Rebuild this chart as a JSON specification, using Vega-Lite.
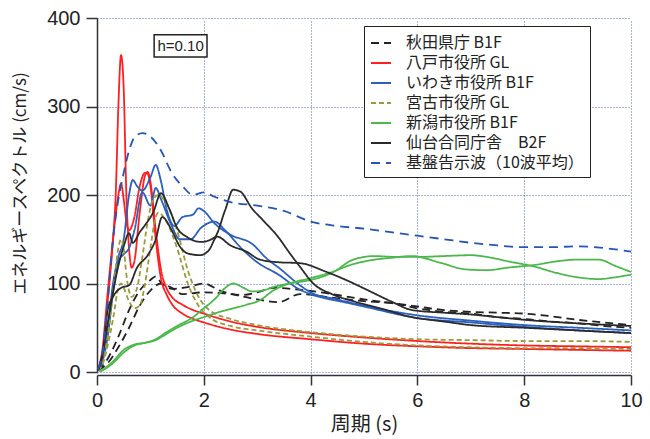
{
"$schema": "https://vega.github.io/schema/vega-lite/v6.json",
"width": 534, "height": 354,
"autosize": "none",
"padding": {"left": 97, "top": 18, "right": 19, "bottom": 67},
"background": "white",
"config": {"view": {"stroke": null}, "font": "Noto Sans CJK JP",
 "axisX": {"offset": 3, "grid": true, "gridColor": "#5566cc", "gridDash": [1,2], "gridWidth": 1, "gridOpacity": 1, "domainColor": "#333", "domainWidth": 1.5, "tickColor": "#333", "tickWidth": 1.5, "tickSize": 10, "labelFont": "Liberation Sans", "labelFontSize": 20, "labelColor": "#222", "labelPadding": 5, "labelFlush": false, "titleFont": "Noto Sans CJK JP", "titleFontSize": 20, "titleFontWeight": "normal", "titleColor": "#222", "titlePadding": 4},
 "axisY": {"grid": true, "gridColor": "#5566cc", "gridDash": [1,2], "gridWidth": 1, "gridOpacity": 1, "domainColor": "#333", "domainWidth": 1.5, "tickColor": "#333", "tickWidth": 1.5, "tickSize": 11, "labelFont": "Liberation Sans", "labelFontSize": 20, "labelColor": "#222", "labelPadding": 6, "labelFlush": false, "titleFont": "Noto Sans CJK JP", "titleFontSize": 17, "titleFontWeight": "normal", "titleColor": "#222", "titleX": -77, "titleY": 165, "titleAngle": -90, "titleAlign": "center", "titleBaseline": "middle"}
},
"layer": [
{
"data": {"values": [
{"s":"秋田県庁 B1F","c":"A","x":0.02,"y":2},{"s":"秋田県庁 B1F","c":"A","x":0.2,"y":15},{"s":"秋田県庁 B1F","c":"A","x":0.4,"y":40},{"s":"秋田県庁 B1F","c":"A","x":0.6,"y":70},{"s":"秋田県庁 B1F","c":"A","x":0.8,"y":92},{"s":"秋田県庁 B1F","c":"A","x":1.0,"y":104},{"s":"秋田県庁 B1F","c":"A","x":1.1,"y":108},{"s":"秋田県庁 B1F","c":"A","x":1.2,"y":101},{"s":"秋田県庁 B1F","c":"A","x":1.4,"y":94},{"s":"秋田県庁 B1F","c":"A","x":1.7,"y":96},{"s":"秋田県庁 B1F","c":"A","x":2.0,"y":100},{"s":"秋田県庁 B1F","c":"A","x":2.3,"y":92},{"s":"秋田県庁 B1F","c":"A","x":2.7,"y":87},{"s":"秋田県庁 B1F","c":"A","x":3.0,"y":90},{"s":"秋田県庁 B1F","c":"A","x":3.3,"y":95},{"s":"秋田県庁 B1F","c":"A","x":3.8,"y":93},{"s":"秋田県庁 B1F","c":"A","x":4.2,"y":90},{"s":"秋田県庁 B1F","c":"A","x":4.5,"y":87},{"s":"秋田県庁 B1F","c":"A","x":5.0,"y":82},{"s":"秋田県庁 B1F","c":"A","x":5.5,"y":78},{"s":"秋田県庁 B1F","c":"A","x":6.0,"y":74},{"s":"秋田県庁 B1F","c":"A","x":6.5,"y":70},{"s":"秋田県庁 B1F","c":"A","x":7.0,"y":68},{"s":"秋田県庁 B1F","c":"A","x":7.5,"y":67},{"s":"秋田県庁 B1F","c":"A","x":8.0,"y":66},{"s":"秋田県庁 B1F","c":"A","x":8.5,"y":63},{"s":"秋田県庁 B1F","c":"A","x":9.0,"y":59},{"s":"秋田県庁 B1F","c":"A","x":9.5,"y":56},{"s":"秋田県庁 B1F","c":"A","x":10,"y":53},
{"s":"秋田県庁 B1F","c":"B","x":0.02,"y":2},{"s":"秋田県庁 B1F","c":"B","x":0.2,"y":10},{"s":"秋田県庁 B1F","c":"B","x":0.4,"y":28},{"s":"秋田県庁 B1F","c":"B","x":0.6,"y":50},{"s":"秋田県庁 B1F","c":"B","x":0.8,"y":75},{"s":"秋田県庁 B1F","c":"B","x":1.0,"y":92},{"s":"秋田県庁 B1F","c":"B","x":1.2,"y":100},{"s":"秋田県庁 B1F","c":"B","x":1.4,"y":95},{"s":"秋田県庁 B1F","c":"B","x":1.6,"y":88},{"s":"秋田県庁 B1F","c":"B","x":2.0,"y":90},{"s":"秋田県庁 B1F","c":"B","x":2.5,"y":88},{"s":"秋田県庁 B1F","c":"B","x":3.0,"y":82},{"s":"秋田県庁 B1F","c":"B","x":3.4,"y":79},{"s":"秋田県庁 B1F","c":"B","x":3.8,"y":88},{"s":"秋田県庁 B1F","c":"B","x":4.4,"y":84},{"s":"秋田県庁 B1F","c":"B","x":5.0,"y":80},{"s":"秋田県庁 B1F","c":"B","x":5.5,"y":78},{"s":"秋田県庁 B1F","c":"B","x":6.0,"y":72},{"s":"秋田県庁 B1F","c":"B","x":6.5,"y":68},{"s":"秋田県庁 B1F","c":"B","x":7.0,"y":66},{"s":"秋田県庁 B1F","c":"B","x":7.5,"y":62},{"s":"秋田県庁 B1F","c":"B","x":8.0,"y":60},{"s":"秋田県庁 B1F","c":"B","x":8.5,"y":57},{"s":"秋田県庁 B1F","c":"B","x":9.0,"y":55},{"s":"秋田県庁 B1F","c":"B","x":9.5,"y":52},{"s":"秋田県庁 B1F","c":"B","x":10,"y":50},

{"s":"八戸市役所 GL","c":"A","x":0.02,"y":3},{"s":"八戸市役所 GL","c":"A","x":0.1,"y":20},{"s":"八戸市役所 GL","c":"A","x":0.2,"y":80},{"s":"八戸市役所 GL","c":"A","x":0.3,"y":150},{"s":"八戸市役所 GL","c":"A","x":0.35,"y":200},{"s":"八戸市役所 GL","c":"A","x":0.4,"y":300},{"s":"八戸市役所 GL","c":"A","x":0.45,"y":358},{"s":"八戸市役所 GL","c":"A","x":0.5,"y":320},{"s":"八戸市役所 GL","c":"A","x":0.55,"y":200},{"s":"八戸市役所 GL","c":"A","x":0.6,"y":140},{"s":"八戸市役所 GL","c":"A","x":0.65,"y":118},{"s":"八戸市役所 GL","c":"A","x":0.7,"y":125},{"s":"八戸市役所 GL","c":"A","x":0.8,"y":180},{"s":"八戸市役所 GL","c":"A","x":0.9,"y":222},{"s":"八戸市役所 GL","c":"A","x":0.95,"y":226},{"s":"八戸市役所 GL","c":"A","x":1.0,"y":215},{"s":"八戸市役所 GL","c":"A","x":1.1,"y":160},{"s":"八戸市役所 GL","c":"A","x":1.2,"y":115},{"s":"八戸市役所 GL","c":"A","x":1.3,"y":95},{"s":"八戸市役所 GL","c":"A","x":1.4,"y":85},{"s":"八戸市役所 GL","c":"A","x":1.6,"y":76},{"s":"八戸市役所 GL","c":"A","x":1.8,"y":70},{"s":"八戸市役所 GL","c":"A","x":2.0,"y":66},{"s":"八戸市役所 GL","c":"A","x":2.5,"y":57},{"s":"八戸市役所 GL","c":"A","x":3.0,"y":51},{"s":"八戸市役所 GL","c":"A","x":4.0,"y":44},{"s":"八戸市役所 GL","c":"A","x":5.0,"y":39},{"s":"八戸市役所 GL","c":"A","x":6.0,"y":35},{"s":"八戸市役所 GL","c":"A","x":7.0,"y":32},{"s":"八戸市役所 GL","c":"A","x":8.0,"y":30},{"s":"八戸市役所 GL","c":"A","x":9.0,"y":29},{"s":"八戸市役所 GL","c":"A","x":10,"y":28},
{"s":"八戸市役所 GL","c":"B","x":0.02,"y":3},{"s":"八戸市役所 GL","c":"B","x":0.1,"y":25},{"s":"八戸市役所 GL","c":"B","x":0.2,"y":90},{"s":"八戸市役所 GL","c":"B","x":0.3,"y":150},{"s":"八戸市役所 GL","c":"B","x":0.4,"y":200},{"s":"八戸市役所 GL","c":"B","x":0.45,"y":213},{"s":"八戸市役所 GL","c":"B","x":0.5,"y":195},{"s":"八戸市役所 GL","c":"B","x":0.55,"y":170},{"s":"八戸市役所 GL","c":"B","x":0.6,"y":160},{"s":"八戸市役所 GL","c":"B","x":0.7,"y":175},{"s":"八戸市役所 GL","c":"B","x":0.8,"y":210},{"s":"八戸市役所 GL","c":"B","x":0.9,"y":225},{"s":"八戸市役所 GL","c":"B","x":0.95,"y":224},{"s":"八戸市役所 GL","c":"B","x":1.0,"y":210},{"s":"八戸市役所 GL","c":"B","x":1.1,"y":150},{"s":"八戸市役所 GL","c":"B","x":1.2,"y":105},{"s":"八戸市役所 GL","c":"B","x":1.3,"y":88},{"s":"八戸市役所 GL","c":"B","x":1.4,"y":77},{"s":"八戸市役所 GL","c":"B","x":1.6,"y":66},{"s":"八戸市役所 GL","c":"B","x":1.8,"y":60},{"s":"八戸市役所 GL","c":"B","x":2.0,"y":56},{"s":"八戸市役所 GL","c":"B","x":2.5,"y":48},{"s":"八戸市役所 GL","c":"B","x":3.0,"y":43},{"s":"八戸市役所 GL","c":"B","x":4.0,"y":37},{"s":"八戸市役所 GL","c":"B","x":5.0,"y":32},{"s":"八戸市役所 GL","c":"B","x":6.0,"y":29},{"s":"八戸市役所 GL","c":"B","x":7.0,"y":27},{"s":"八戸市役所 GL","c":"B","x":8.0,"y":26},{"s":"八戸市役所 GL","c":"B","x":9.0,"y":25},{"s":"八戸市役所 GL","c":"B","x":10,"y":24},

{"s":"いわき市役所 B1F","c":"A","x":0.02,"y":3},{"s":"いわき市役所 B1F","c":"A","x":0.1,"y":15},{"s":"いわき市役所 B1F","c":"A","x":0.2,"y":50},{"s":"いわき市役所 B1F","c":"A","x":0.3,"y":100},{"s":"いわき市役所 B1F","c":"A","x":0.4,"y":130},{"s":"いわき市役所 B1F","c":"A","x":0.5,"y":150},{"s":"いわき市役所 B1F","c":"A","x":0.6,"y":200},{"s":"いわき市役所 B1F","c":"A","x":0.67,"y":217},{"s":"いわき市役所 B1F","c":"A","x":0.75,"y":210},{"s":"いわき市役所 B1F","c":"A","x":0.85,"y":205},{"s":"いわき市役所 B1F","c":"A","x":1.0,"y":220},{"s":"いわき市役所 B1F","c":"A","x":1.1,"y":234},{"s":"いわき市役所 B1F","c":"A","x":1.2,"y":215},{"s":"いわき市役所 B1F","c":"A","x":1.3,"y":185},{"s":"いわき市役所 B1F","c":"A","x":1.45,"y":165},{"s":"いわき市役所 B1F","c":"A","x":1.6,"y":175},{"s":"いわき市役所 B1F","c":"A","x":1.8,"y":178},{"s":"いわき市役所 B1F","c":"A","x":1.9,"y":185},{"s":"いわき市役所 B1F","c":"A","x":2.0,"y":182},{"s":"いわき市役所 B1F","c":"A","x":2.2,"y":168},{"s":"いわき市役所 B1F","c":"A","x":2.5,"y":155},{"s":"いわき市役所 B1F","c":"A","x":2.9,"y":145},{"s":"いわき市役所 B1F","c":"A","x":3.2,"y":127},{"s":"いわき市役所 B1F","c":"A","x":3.4,"y":118},{"s":"いわき市役所 B1F","c":"A","x":3.8,"y":98},{"s":"いわき市役所 B1F","c":"A","x":4.0,"y":90},{"s":"いわき市役所 B1F","c":"A","x":4.5,"y":82},{"s":"いわき市役所 B1F","c":"A","x":5.0,"y":75},{"s":"いわき市役所 B1F","c":"A","x":6.0,"y":64},{"s":"いわき市役所 B1F","c":"A","x":7.0,"y":58},{"s":"いわき市役所 B1F","c":"A","x":8.0,"y":53},{"s":"いわき市役所 B1F","c":"A","x":9.0,"y":50},{"s":"いわき市役所 B1F","c":"A","x":10,"y":47},
{"s":"いわき市役所 B1F","c":"B","x":0.02,"y":3},{"s":"いわき市役所 B1F","c":"B","x":0.1,"y":12},{"s":"いわき市役所 B1F","c":"B","x":0.2,"y":40},{"s":"いわき市役所 B1F","c":"B","x":0.3,"y":90},{"s":"いわき市役所 B1F","c":"B","x":0.4,"y":125},{"s":"いわき市役所 B1F","c":"B","x":0.5,"y":133},{"s":"いわき市役所 B1F","c":"B","x":0.6,"y":140},{"s":"いわき市役所 B1F","c":"B","x":0.7,"y":160},{"s":"いわき市役所 B1F","c":"B","x":0.85,"y":203},{"s":"いわき市役所 B1F","c":"B","x":1.0,"y":188},{"s":"いわき市役所 B1F","c":"B","x":1.1,"y":208},{"s":"いわき市役所 B1F","c":"B","x":1.2,"y":195},{"s":"いわき市役所 B1F","c":"B","x":1.4,"y":165},{"s":"いわき市役所 B1F","c":"B","x":1.55,"y":150},{"s":"いわき市役所 B1F","c":"B","x":1.75,"y":150},{"s":"いわき市役所 B1F","c":"B","x":1.95,"y":163},{"s":"いわき市役所 B1F","c":"B","x":2.2,"y":170},{"s":"いわき市役所 B1F","c":"B","x":2.4,"y":160},{"s":"いわき市役所 B1F","c":"B","x":2.7,"y":140},{"s":"いわき市役所 B1F","c":"B","x":3.0,"y":124},{"s":"いわき市役所 B1F","c":"B","x":3.4,"y":110},{"s":"いわき市役所 B1F","c":"B","x":3.8,"y":93},{"s":"いわき市役所 B1F","c":"B","x":4.0,"y":88},{"s":"いわき市役所 B1F","c":"B","x":4.7,"y":78},{"s":"いわき市役所 B1F","c":"B","x":5.0,"y":74},{"s":"いわき市役所 B1F","c":"B","x":6.0,"y":61},{"s":"いわき市役所 B1F","c":"B","x":7.0,"y":56},{"s":"いわき市役所 B1F","c":"B","x":8.0,"y":51},{"s":"いわき市役所 B1F","c":"B","x":9.0,"y":47},{"s":"いわき市役所 B1F","c":"B","x":10,"y":44},

{"s":"宮古市役所 GL","c":"A","x":0.02,"y":2},{"s":"宮古市役所 GL","c":"A","x":0.1,"y":10},{"s":"宮古市役所 GL","c":"A","x":0.2,"y":40},{"s":"宮古市役所 GL","c":"A","x":0.3,"y":90},{"s":"宮古市役所 GL","c":"A","x":0.4,"y":140},{"s":"宮古市役所 GL","c":"A","x":0.45,"y":150},{"s":"宮古市役所 GL","c":"A","x":0.5,"y":140},{"s":"宮古市役所 GL","c":"A","x":0.55,"y":110},{"s":"宮古市役所 GL","c":"A","x":0.65,"y":85},{"s":"宮古市役所 GL","c":"A","x":0.75,"y":95},{"s":"宮古市役所 GL","c":"A","x":0.85,"y":130},{"s":"宮古市役所 GL","c":"A","x":0.95,"y":170},{"s":"宮古市役所 GL","c":"A","x":1.05,"y":195},{"s":"宮古市役所 GL","c":"A","x":1.15,"y":200},{"s":"宮古市役所 GL","c":"A","x":1.3,"y":190},{"s":"宮古市役所 GL","c":"A","x":1.5,"y":160},{"s":"宮古市役所 GL","c":"A","x":1.7,"y":115},{"s":"宮古市役所 GL","c":"A","x":1.9,"y":85},{"s":"宮古市役所 GL","c":"A","x":2.1,"y":70},{"s":"宮古市役所 GL","c":"A","x":2.5,"y":60},{"s":"宮古市役所 GL","c":"A","x":3.0,"y":53},{"s":"宮古市役所 GL","c":"A","x":4.0,"y":45},{"s":"宮古市役所 GL","c":"A","x":5.0,"y":40},{"s":"宮古市役所 GL","c":"A","x":6.0,"y":37},{"s":"宮古市役所 GL","c":"A","x":7.0,"y":36},{"s":"宮古市役所 GL","c":"A","x":8.0,"y":35},{"s":"宮古市役所 GL","c":"A","x":9.0,"y":35},{"s":"宮古市役所 GL","c":"A","x":10,"y":34},
{"s":"宮古市役所 GL","c":"B","x":0.02,"y":2},{"s":"宮古市役所 GL","c":"B","x":0.1,"y":8},{"s":"宮古市役所 GL","c":"B","x":0.2,"y":30},{"s":"宮古市役所 GL","c":"B","x":0.3,"y":60},{"s":"宮古市役所 GL","c":"B","x":0.4,"y":95},{"s":"宮古市役所 GL","c":"B","x":0.45,"y":100},{"s":"宮古市役所 GL","c":"B","x":0.5,"y":95},{"s":"宮古市役所 GL","c":"B","x":0.6,"y":80},{"s":"宮古市役所 GL","c":"B","x":0.7,"y":72},{"s":"宮古市役所 GL","c":"B","x":0.8,"y":75},{"s":"宮古市役所 GL","c":"B","x":0.9,"y":100},{"s":"宮古市役所 GL","c":"B","x":1.0,"y":140},{"s":"宮古市役所 GL","c":"B","x":1.1,"y":175},{"s":"宮古市役所 GL","c":"B","x":1.15,"y":180},{"s":"宮古市役所 GL","c":"B","x":1.3,"y":170},{"s":"宮古市役所 GL","c":"B","x":1.5,"y":140},{"s":"宮古市役所 GL","c":"B","x":1.7,"y":100},{"s":"宮古市役所 GL","c":"B","x":1.9,"y":75},{"s":"宮古市役所 GL","c":"B","x":2.1,"y":62},{"s":"宮古市役所 GL","c":"B","x":2.5,"y":52},{"s":"宮古市役所 GL","c":"B","x":3.0,"y":47},{"s":"宮古市役所 GL","c":"B","x":4.0,"y":40},{"s":"宮古市役所 GL","c":"B","x":5.0,"y":34},{"s":"宮古市役所 GL","c":"B","x":6.0,"y":30},{"s":"宮古市役所 GL","c":"B","x":7.0,"y":28},{"s":"宮古市役所 GL","c":"B","x":8.0,"y":27},{"s":"宮古市役所 GL","c":"B","x":9.0,"y":27},{"s":"宮古市役所 GL","c":"B","x":10,"y":26},

{"s":"新潟市役所 B1F","c":"A","x":0.05,"y":0},{"s":"新潟市役所 B1F","c":"A","x":0.3,"y":12},{"s":"新潟市役所 B1F","c":"A","x":0.5,"y":25},{"s":"新潟市役所 B1F","c":"A","x":0.7,"y":31},{"s":"新潟市役所 B1F","c":"A","x":0.9,"y":33},{"s":"新潟市役所 B1F","c":"A","x":1.1,"y":37},{"s":"新潟市役所 B1F","c":"A","x":1.3,"y":45},{"s":"新潟市役所 B1F","c":"A","x":1.5,"y":52},{"s":"新潟市役所 B1F","c":"A","x":1.8,"y":62},{"s":"新潟市役所 B1F","c":"A","x":2.0,"y":72},{"s":"新潟市役所 B1F","c":"A","x":2.2,"y":82},{"s":"新潟市役所 B1F","c":"A","x":2.4,"y":95},{"s":"新潟市役所 B1F","c":"A","x":2.55,"y":100},{"s":"新潟市役所 B1F","c":"A","x":2.75,"y":95},{"s":"新潟市役所 B1F","c":"A","x":2.9,"y":91},{"s":"新潟市役所 B1F","c":"A","x":3.1,"y":92},{"s":"新潟市役所 B1F","c":"A","x":3.3,"y":96},{"s":"新潟市役所 B1F","c":"A","x":3.6,"y":100},{"s":"新潟市役所 B1F","c":"A","x":4.0,"y":104},{"s":"新潟市役所 B1F","c":"A","x":4.4,"y":112},{"s":"新潟市役所 B1F","c":"A","x":4.8,"y":127},{"s":"新潟市役所 B1F","c":"A","x":5.2,"y":131},{"s":"新潟市役所 B1F","c":"A","x":5.6,"y":130},{"s":"新潟市役所 B1F","c":"A","x":6.0,"y":130},{"s":"新潟市役所 B1F","c":"A","x":6.5,"y":131},{"s":"新潟市役所 B1F","c":"A","x":7.0,"y":132},{"s":"新潟市役所 B1F","c":"A","x":7.3,"y":130},{"s":"新潟市役所 B1F","c":"A","x":7.7,"y":125},{"s":"新潟市役所 B1F","c":"A","x":8.2,"y":119},{"s":"新潟市役所 B1F","c":"A","x":8.6,"y":112},{"s":"新潟市役所 B1F","c":"A","x":9.0,"y":107},{"s":"新潟市役所 B1F","c":"A","x":9.4,"y":105},{"s":"新潟市役所 B1F","c":"A","x":9.7,"y":107},{"s":"新潟市役所 B1F","c":"A","x":10,"y":110},
{"s":"新潟市役所 B1F","c":"B","x":0.05,"y":0},{"s":"新潟市役所 B1F","c":"B","x":0.3,"y":10},{"s":"新潟市役所 B1F","c":"B","x":0.5,"y":22},{"s":"新潟市役所 B1F","c":"B","x":0.7,"y":30},{"s":"新潟市役所 B1F","c":"B","x":0.9,"y":33},{"s":"新潟市役所 B1F","c":"B","x":1.1,"y":36},{"s":"新潟市役所 B1F","c":"B","x":1.3,"y":43},{"s":"新潟市役所 B1F","c":"B","x":1.5,"y":50},{"s":"新潟市役所 B1F","c":"B","x":1.8,"y":58},{"s":"新潟市役所 B1F","c":"B","x":2.0,"y":62},{"s":"新潟市役所 B1F","c":"B","x":2.3,"y":68},{"s":"新潟市役所 B1F","c":"B","x":2.55,"y":72},{"s":"新潟市役所 B1F","c":"B","x":2.8,"y":76},{"s":"新潟市役所 B1F","c":"B","x":3.05,"y":81},{"s":"新潟市役所 B1F","c":"B","x":3.3,"y":92},{"s":"新潟市役所 B1F","c":"B","x":3.6,"y":100},{"s":"新潟市役所 B1F","c":"B","x":4.0,"y":106},{"s":"新潟市役所 B1F","c":"B","x":4.4,"y":113},{"s":"新潟市役所 B1F","c":"B","x":4.75,"y":121},{"s":"新潟市役所 B1F","c":"B","x":5.1,"y":126},{"s":"新潟市役所 B1F","c":"B","x":5.5,"y":129},{"s":"新潟市役所 B1F","c":"B","x":5.9,"y":131},{"s":"新潟市役所 B1F","c":"B","x":6.4,"y":124},{"s":"新潟市役所 B1F","c":"B","x":6.9,"y":116},{"s":"新潟市役所 B1F","c":"B","x":7.3,"y":115},{"s":"新潟市役所 B1F","c":"B","x":7.7,"y":118},{"s":"新潟市役所 B1F","c":"B","x":8.2,"y":121},{"s":"新潟市役所 B1F","c":"B","x":8.6,"y":125},{"s":"新潟市役所 B1F","c":"B","x":9.0,"y":127},{"s":"新潟市役所 B1F","c":"B","x":9.4,"y":127},{"s":"新潟市役所 B1F","c":"B","x":9.7,"y":120},{"s":"新潟市役所 B1F","c":"B","x":10,"y":113},

{"s":"仙台合同庁舎　B2F","c":"A","x":0.02,"y":2},{"s":"仙台合同庁舎　B2F","c":"A","x":0.1,"y":20},{"s":"仙台合同庁舎　B2F","c":"A","x":0.2,"y":55},{"s":"仙台合同庁舎　B2F","c":"A","x":0.3,"y":90},{"s":"仙台合同庁舎　B2F","c":"A","x":0.4,"y":120},{"s":"仙台合同庁舎　B2F","c":"A","x":0.5,"y":142},{"s":"仙台合同庁舎　B2F","c":"A","x":0.6,"y":157},{"s":"仙台合同庁舎　B2F","c":"A","x":0.67,"y":146},{"s":"仙台合同庁舎　B2F","c":"A","x":0.8,"y":158},{"s":"仙台合同庁舎　B2F","c":"A","x":0.9,"y":166},{"s":"仙台合同庁舎　B2F","c":"A","x":1.05,"y":180},{"s":"仙台合同庁舎　B2F","c":"A","x":1.2,"y":202},{"s":"仙台合同庁舎　B2F","c":"A","x":1.35,"y":185},{"s":"仙台合同庁舎　B2F","c":"A","x":1.5,"y":163},{"s":"仙台合同庁舎　B2F","c":"A","x":1.7,"y":152},{"s":"仙台合同庁舎　B2F","c":"A","x":1.95,"y":147},{"s":"仙台合同庁舎　B2F","c":"A","x":2.2,"y":152},{"s":"仙台合同庁舎　B2F","c":"A","x":2.4,"y":183},{"s":"仙台合同庁舎　B2F","c":"A","x":2.55,"y":206},{"s":"仙台合同庁舎　B2F","c":"A","x":2.68,"y":204},{"s":"仙台合同庁舎　B2F","c":"A","x":2.9,"y":185},{"s":"仙台合同庁舎　B2F","c":"A","x":3.1,"y":172},{"s":"仙台合同庁舎　B2F","c":"A","x":3.4,"y":152},{"s":"仙台合同庁舎　B2F","c":"A","x":3.6,"y":135},{"s":"仙台合同庁舎　B2F","c":"A","x":3.8,"y":119},{"s":"仙台合同庁舎　B2F","c":"A","x":4.05,"y":100},{"s":"仙台合同庁舎　B2F","c":"A","x":4.4,"y":88},{"s":"仙台合同庁舎　B2F","c":"A","x":4.8,"y":80},{"s":"仙台合同庁舎　B2F","c":"A","x":5.3,"y":72},{"s":"仙台合同庁舎　B2F","c":"A","x":5.9,"y":62},{"s":"仙台合同庁舎　B2F","c":"A","x":6.5,"y":57},{"s":"仙台合同庁舎　B2F","c":"A","x":7.0,"y":53},{"s":"仙台合同庁舎　B2F","c":"A","x":8.0,"y":50},{"s":"仙台合同庁舎　B2F","c":"A","x":9.0,"y":47},{"s":"仙台合同庁舎　B2F","c":"A","x":10,"y":44},
{"s":"仙台合同庁舎　B2F","c":"B","x":0.02,"y":2},{"s":"仙台合同庁舎　B2F","c":"B","x":0.1,"y":18},{"s":"仙台合同庁舎　B2F","c":"B","x":0.2,"y":70},{"s":"仙台合同庁舎　B2F","c":"B","x":0.3,"y":85},{"s":"仙台合同庁舎　B2F","c":"B","x":0.45,"y":95},{"s":"仙台合同庁舎　B2F","c":"B","x":0.6,"y":98},{"s":"仙台合同庁舎　B2F","c":"B","x":0.75,"y":118},{"s":"仙台合同庁舎　B2F","c":"B","x":0.95,"y":132},{"s":"仙台合同庁舎　B2F","c":"B","x":1.1,"y":150},{"s":"仙台合同庁舎　B2F","c":"B","x":1.22,"y":175},{"s":"仙台合同庁舎　B2F","c":"B","x":1.4,"y":160},{"s":"仙台合同庁舎　B2F","c":"B","x":1.55,"y":142},{"s":"仙台合同庁舎　B2F","c":"B","x":1.7,"y":134},{"s":"仙台合同庁舎　B2F","c":"B","x":1.93,"y":132},{"s":"仙台合同庁舎　B2F","c":"B","x":2.1,"y":138},{"s":"仙台合同庁舎　B2F","c":"B","x":2.25,"y":153},{"s":"仙台合同庁舎　B2F","c":"B","x":2.5,"y":143},{"s":"仙台合同庁舎　B2F","c":"B","x":2.8,"y":136},{"s":"仙台合同庁舎　B2F","c":"B","x":3.05,"y":127},{"s":"仙台合同庁舎　B2F","c":"B","x":3.4,"y":124},{"s":"仙台合同庁舎　B2F","c":"B","x":3.8,"y":123},{"s":"仙台合同庁舎　B2F","c":"B","x":4.3,"y":113},{"s":"仙台合同庁舎　B2F","c":"B","x":4.7,"y":103},{"s":"仙台合同庁舎　B2F","c":"B","x":5.05,"y":93},{"s":"仙台合同庁舎　B2F","c":"B","x":5.5,"y":80},{"s":"仙台合同庁舎　B2F","c":"B","x":5.9,"y":70},{"s":"仙台合同庁舎　B2F","c":"B","x":6.5,"y":67},{"s":"仙台合同庁舎　B2F","c":"B","x":7.0,"y":65},{"s":"仙台合同庁舎　B2F","c":"B","x":7.5,"y":62},{"s":"仙台合同庁舎　B2F","c":"B","x":8.0,"y":59},{"s":"仙台合同庁舎　B2F","c":"B","x":9.0,"y":55},{"s":"仙台合同庁舎　B2F","c":"B","x":10,"y":52},

{"s":"基盤告示波（10波平均）","c":"A","x":0.02,"y":3},{"s":"基盤告示波（10波平均）","c":"A","x":0.1,"y":20},{"s":"基盤告示波（10波平均）","c":"A","x":0.2,"y":80},{"s":"基盤告示波（10波平均）","c":"A","x":0.3,"y":150},{"s":"基盤告示波（10波平均）","c":"A","x":0.4,"y":195},{"s":"基盤告示波（10波平均）","c":"A","x":0.5,"y":225},{"s":"基盤告示波（10波平均）","c":"A","x":0.6,"y":250},{"s":"基盤告示波（10波平均）","c":"A","x":0.7,"y":265},{"s":"基盤告示波（10波平均）","c":"A","x":0.85,"y":270},{"s":"基盤告示波（10波平均）","c":"A","x":1.0,"y":266},{"s":"基盤告示波（10波平均）","c":"A","x":1.2,"y":250},{"s":"基盤告示波（10波平均）","c":"A","x":1.4,"y":225},{"s":"基盤告示波（10波平均）","c":"A","x":1.6,"y":210},{"s":"基盤告示波（10波平均）","c":"A","x":1.8,"y":200},{"s":"基盤告示波（10波平均）","c":"A","x":2.0,"y":203},{"s":"基盤告示波（10波平均）","c":"A","x":2.2,"y":198},{"s":"基盤告示波（10波平均）","c":"A","x":2.5,"y":192},{"s":"基盤告示波（10波平均）","c":"A","x":3.0,"y":188},{"s":"基盤告示波（10波平均）","c":"A","x":3.5,"y":182},{"s":"基盤告示波（10波平均）","c":"A","x":4.0,"y":170},{"s":"基盤告示波（10波平均）","c":"A","x":4.5,"y":165},{"s":"基盤告示波（10波平均）","c":"A","x":5.0,"y":162},{"s":"基盤告示波（10波平均）","c":"A","x":5.5,"y":158},{"s":"基盤告示波（10波平均）","c":"A","x":6.0,"y":154},{"s":"基盤告示波（10波平均）","c":"A","x":6.5,"y":150},{"s":"基盤告示波（10波平均）","c":"A","x":7.0,"y":146},{"s":"基盤告示波（10波平均）","c":"A","x":7.5,"y":143},{"s":"基盤告示波（10波平均）","c":"A","x":8.0,"y":141},{"s":"基盤告示波（10波平均）","c":"A","x":8.5,"y":141},{"s":"基盤告示波（10波平均）","c":"A","x":9.0,"y":142},{"s":"基盤告示波（10波平均）","c":"A","x":9.5,"y":140},{"s":"基盤告示波（10波平均）","c":"A","x":10,"y":136}
]},
"mark": {"type": "line", "strokeWidth": 1.8, "interpolate": "monotone", "clip": true},
"encoding": {
"x": {"field": "x", "type": "quantitative", "title": "周期 (s)", "scale": {"domain": [0, 10], "nice": false}, "axis": {"values": [0,2,4,6,8,10]}},
"y": {"field": "y", "type": "quantitative", "title": "エネルギースペクトル (cm/s)", "scale": {"domain": [0, 400], "nice": false}, "axis": {"values": [0,100,200,300,400]}},
"color": {"field": "s", "type": "nominal",
 "scale": {"domain": ["秋田県庁 B1F","八戸市役所 GL","いわき市役所 B1F","宮古市役所 GL","新潟市役所 B1F","仙台合同庁舎　B2F","基盤告示波（10波平均）"], "range": ["#222222","#ff1f1f","#2b5fbd","#9c9a3a","#4cb84c","#2a2a2a","#2356b8"]},
 "legend": {"title": null, "orient": "none", "legendX": 267, "legendY": 8, "direction": "vertical", "symbolType": "stroke", "symbolStrokeWidth": 2, "symbolSize": 400, "labelFont": "Noto Sans CJK JP", "labelFontSize": 16, "labelColor": "#222", "strokeColor": "#222", "fillColor": "white", "padding": 6, "rowPadding": 1, "labelOffset": 14, "labelLimit": 300}},
"strokeDash": {"field": "s", "type": "nominal",
 "scale": {"domain": ["秋田県庁 B1F","八戸市役所 GL","いわき市役所 B1F","宮古市役所 GL","新潟市役所 B1F","仙台合同庁舎　B2F","基盤告示波（10波平均）"], "range": [[8,5],[1,0],[1,0],[5,3],[1,0],[1,0],[9,6]]},
 "legend": {"title": null, "orient": "none", "legendX": 267, "legendY": 8, "direction": "vertical", "symbolType": "stroke", "symbolStrokeWidth": 2, "symbolSize": 400, "labelFont": "Noto Sans CJK JP", "labelFontSize": 16, "labelColor": "#222", "strokeColor": "#222", "fillColor": "white", "padding": 6, "rowPadding": 1, "labelOffset": 14, "labelLimit": 300}},
"detail": {"field": "c", "type": "nominal"}
}
},
{
"data": {"values": [{"x1": 1.07, "x2": 2.06, "y1": 356, "y2": 381}]},
"mark": {"type": "rect", "fill": "white", "stroke": "#222", "strokeWidth": 1.5},
"encoding": {"x": {"field": "x1", "type": "quantitative", "title": "周期 (s)"}, "x2": {"field": "x2"}, "y": {"field": "y1", "type": "quantitative", "title": "エネルギースペクトル (cm/s)"}, "y2": {"field": "y2"}}
},
{
"data": {"values": [{"x": 1.565, "y": 368.5, "t": "h=0.10"}]},
"mark": {"type": "text", "fontSize": 15, "font": "Liberation Sans", "color": "#222", "align": "center", "baseline": "middle"},
"encoding": {"x": {"field": "x", "type": "quantitative", "title": "周期 (s)"}, "y": {"field": "y", "type": "quantitative", "title": "エネルギースペクトル (cm/s)"}, "text": {"field": "t"}}
}
]
}
